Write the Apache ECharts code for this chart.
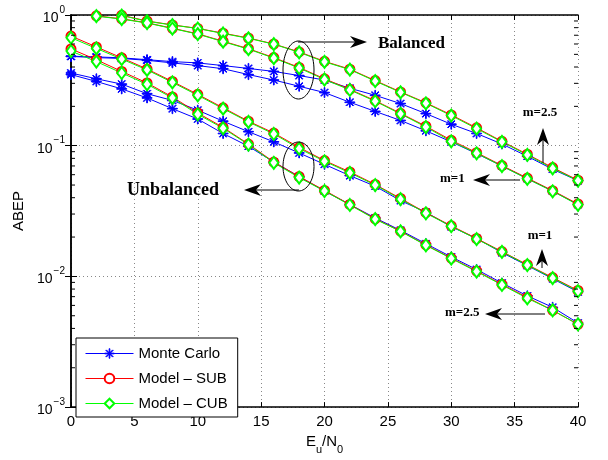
<!DOCTYPE html>
<html><head><meta charset="utf-8">
<script src="https://cdn.jsdelivr.net/npm/echarts@6/dist/echarts.min.js"></script>
<style>html,body{margin:0;padding:0;background:#fff}#c{width:608px;height:460px}</style>
</head><body><div id="c"></div>
<script>
// ---- data ----
const snr = [0,2,4,6,8,10,12,14,16,18,20,22,24,26,28,30,32,34,36,38,40];

// Balanced, m=2.5 (upper at high SNR)
const balM25_MC  = [0.484,0.478,0.47,0.455,0.44,0.43,0.41,0.39,0.37,0.344,0.318,0.275,0.243,0.21,0.176,0.146,0.124,0.103,0.083,0.066,0.054];
const balM25_SUB = [null,null,0.995,0.90,0.84,0.79,0.726,0.667,0.60,0.522,0.442,0.385,0.315,0.258,0.213,0.172,0.137,0.108,0.086,0.068,0.0545];
const balM25_CUB = [null,null,0.99,0.895,0.838,0.788,0.722,0.663,0.598,0.518,0.438,0.382,0.312,0.256,0.211,0.170,0.135,0.107,0.085,0.067,0.054];
// Balanced, m=1
const balM1_MC   = [0.482,0.472,0.465,0.45,0.43,0.41,0.388,0.35,0.318,0.285,0.255,0.215,0.183,0.156,0.13,0.107,0.087,0.07,0.056,0.045,0.0355];
const balM1_SUB  = [null,0.985,0.935,0.872,0.792,0.718,0.63,0.552,0.472,0.397,0.325,0.27,0.221,0.177,0.141,0.11,0.0885,0.0705,0.0565,0.0453,0.0358];
const balM1_CUB  = [null,0.98,0.93,0.868,0.788,0.714,0.625,0.548,0.468,0.393,0.321,0.267,0.219,0.175,0.139,0.108,0.0875,0.0698,0.0558,0.0448,0.0353];
// Unbalanced, m=1
const unbM1_MC   = [0.36,0.325,0.296,0.25,0.222,0.187,0.154,0.128,0.107,0.088,0.072,0.059,0.049,0.038,0.031,0.024,0.0195,0.0152,0.0121,0.0096,0.0076];
const unbM1_SUB  = [0.69,0.57,0.47,0.386,0.31,0.247,0.195,0.154,0.125,0.097,0.077,0.063,0.0505,0.0395,0.0307,0.0244,0.0195,0.0155,0.0123,0.0098,0.0078];
const unbM1_CUB  = [0.67,0.555,0.46,0.38,0.305,0.243,0.192,0.152,0.123,0.095,0.076,0.062,0.05,0.039,0.0304,0.0242,0.0193,0.0154,0.0122,0.0097,0.0077];
// Unbalanced, m=2.5
const unbM25_MC  = [0.35,0.31,0.272,0.232,0.192,0.16,0.124,0.099,0.075,0.058,0.045,0.0355,0.028,0.0225,0.0178,0.0141,0.0113,0.0089,0.0071,0.0058,0.0044];
const unbM25_SUB = [0.55,0.455,0.37,0.302,0.236,0.178,0.138,0.103,0.075,0.058,0.0455,0.0355,0.0276,0.0222,0.0174,0.0138,0.011,0.0087,0.0069,0.0055,0.0043];
const unbM25_CUB = [0.53,0.44,0.36,0.295,0.232,0.174,0.136,0.102,0.074,0.057,0.045,0.0352,0.0274,0.0221,0.0173,0.0137,0.0109,0.0086,0.0068,0.0055,0.0043];

const xTicks = [0,5,10,15,20,25,30,35,40];
const yTickValues = [0.001,0.01,0.1,1];
const yTickExps = ['\u22123','\u22122','\u22121','0'];
const minorTickValues = [0.002,0.003,0.004,0.005,0.006,0.007,0.008,0.009,
  0.02,0.03,0.04,0.05,0.06,0.07,0.08,0.09,0.2,0.3,0.4,0.5,0.6,0.7,0.8,0.9];
const legendNames = ['Monte Carlo','Model \u2013 SUB','Model \u2013 CUB'];
const colors = ['#0000ff','#ff0000','#00ff00'];

// ---- chart ----
const FONT = '"Liberation Sans", Arial, Helvetica, sans-serif';
const SERIF = '"Liberation Serif", "Times New Roman", serif';
const star = 'path://M9.3,0 L10.7,0 L10.7,20 L9.3,20 Z M0,9.3 L20,9.3 L20,10.7 L0,10.7 Z M2.5,3.5 L3.5,2.5 L17.5,16.5 L16.5,17.5 Z M16.5,2.5 L17.5,3.5 L3.5,17.5 L2.5,16.5 Z';

function pairs(arr){ return snr.map((x,i)=>[x,arr[i]]); }
function mk(name, arr, color, symbol, size){
  return {name, type:'line', data:pairs(arr), xAxisIndex:0, yAxisIndex:0,
    symbol, symbolSize:size, showAllSymbol:true, connectNulls:false,
    lineStyle:{color, width:1}, itemStyle:{color, borderColor:color, borderWidth:1},
    emphasis:{disabled:true}, z:3};
}
const series = [];
[balM25_MC,balM1_MC,unbM1_MC,unbM25_MC].forEach(a=>series.push(mk(legendNames[0],a,colors[0],star,10)));
[balM25_SUB,balM1_SUB,unbM1_SUB,unbM25_SUB].forEach(a=>series.push(mk(legendNames[1],a,colors[1],'emptyCircle',9)));
[balM25_CUB,balM1_CUB,unbM1_CUB,unbM25_CUB].forEach(a=>series.push(mk(legendNames[2],a,colors[2],'emptyDiamond',[9,12])));

series.push({
  name:'_minor', type:'custom', xAxisIndex:0, yAxisIndex:0, silent:true, clip:false, z:5,
  data: minorTickValues.map(v=>[0,v]),
  renderItem(params, api){
    const cs = params.coordSys;
    const y = api.coord([0, api.value(1)])[1];
    return {type:'group', children:[
      {type:'line', shape:{x1:cs.x, y1:y, x2:cs.x+4, y2:y}, style:{stroke:'#000', lineWidth:1}},
      {type:'line', shape:{x1:cs.x+cs.width-4, y1:y, x2:cs.x+cs.width, y2:y}, style:{stroke:'#000', lineWidth:1}}
    ]};
  }
});

const axisLine = {show:true, lineStyle:{color:'#000', width:1.5}};
const gridLine = {show:true, lineStyle:{color:'#888', width:1, type:[1,3]}};

const chart = echarts.init(document.getElementById('c'), null, {renderer:'canvas'});
chart.setOption({
  animation:false,
  backgroundColor:'#fff',
  grid:{left:71, right:30, top:15, bottom:47, containLabel:false},
  xAxis:[{
    type:'value', min:0, max:40, interval:5, position:'bottom',
    axisLine, axisTick:{show:true, inside:true, length:5, lineStyle:{color:'#000'}},
    axisLabel:{color:'#000', fontSize:15, fontFamily:FONT, margin:7,
      formatter:v=> xTicks.indexOf(v)>=0 ? String(v) : ''},
    splitLine:gridLine,
    name:'E{sub|u}/N{sub|0}', nameLocation:'middle', nameGap:24,
    nameTextStyle:{color:'#000', fontSize:15, fontFamily:FONT,
      rich:{sub:{fontSize:11, fontFamily:FONT, color:'#000', verticalAlign:'bottom', padding:[0,0,-6,0]}}}
  },{
    type:'value', min:0, max:40, interval:5, position:'top',
    axisLine, axisTick:{show:true, inside:true, length:5, lineStyle:{color:'#000'}},
    axisLabel:{show:false}, splitLine:{show:false}
  }],
  yAxis:[{
    type:'log', logBase:10, min:0.001, max:1, position:'left',
    axisLine, axisTick:{show:true, inside:true, length:6, lineStyle:{color:'#000'}},
    axisLabel:{margin:6, formatter:v=>{
        let i = yTickValues.findIndex(t=>Math.abs(t-v)/t<1e-6);
        if(i<0) return '';
        return '{b|10}{s|'+yTickExps[i]+'}';
      },
      rich:{b:{fontSize:14, fontFamily:FONT, color:'#000', padding:[6,0,0,0]},
            s:{fontSize:10, fontFamily:FONT, color:'#000', verticalAlign:'top', padding:[0,0,0,1]}}},
    splitLine:gridLine,
    name:'ABEP', nameLocation:'middle', nameGap:44, nameRotate:90,
    nameTextStyle:{color:'#000', fontSize:15, fontFamily:FONT}
  },{
    type:'log', logBase:10, min:0.001, max:1, position:'right',
    axisLine, axisTick:{show:true, inside:true, length:6, lineStyle:{color:'#000'}},
    axisLabel:{show:false}, splitLine:{show:false}
  }],
  legend:{
    data:legendNames.map((n,i)=>({name:n, lineStyle:{color:colors[i], width:1}, itemStyle:{color:colors[i], borderColor:colors[i], borderWidth:1}})),
    orient:'vertical', left:76, top:338,
    itemWidth:48, itemHeight:12, itemGap:10, padding:[8,10,6,9],
    backgroundColor:'#fff', borderColor:'#000', borderWidth:1, borderRadius:0,
    textStyle:{color:'#000', fontSize:15, fontFamily:FONT},
    selectedMode:false
  },
  series
});

// ---- annotations ----
function arrow(x1,y1,x2,y2){
  const dx=x2-x1, dy=y2-y1, len=Math.hypot(dx,dy), ux=dx/len, uy=dy/len, nx=-uy, ny=ux;
  const L=17, W=6, N=12;
  const bx=x2-ux*L, by=y2-uy*L, mx=x2-ux*N, my=y2-uy*N;
  return [
    {type:'line', shape:{x1,y1,x2:mx,y2:my}, style:{stroke:'#000', lineWidth:1}, z:20},
    {type:'polygon', shape:{points:[[x2,y2],[bx+nx*W,by+ny*W],[mx,my],[bx-nx*W,by-ny*W]]}, style:{fill:'#000'}, z:20}
  ];
}
function label(text, x, y, size, align){
  return {type:'text', z:20, style:{text, x, y, fill:'#000', font:'bold '+size+'px '+SERIF, align:align||'left', verticalAlign:'middle'}};
}
const g = [
  {type:'ellipse', shape:{cx:298.5, cy:70, rx:15.5, ry:29}, style:{fill:'none', stroke:'#000', lineWidth:1}, z:20},
  {type:'ellipse', shape:{cx:298.5, cy:166.5, rx:15.5, ry:24.5}, style:{fill:'none', stroke:'#000', lineWidth:1}, z:20},
  ...arrow(298,42,367,42),
  label('Balanced',378,44,17),
  ...arrow(299,190,244,190),
  label('Unbalanced',127,190,18),
  ...arrow(543,163,543,128),
  label('m=2.5',540,113,13,'center'),
  ...arrow(520,180,473,180),
  label('m=1',440,179,13),
  ...arrow(542,268,542,249),
  label('m=1',540,236,13,'center'),
  ...arrow(545,314,485,314),
  label('m=2.5',445,313,13)
];
chart.setOption({graphic:g});
</script>
</body></html>
